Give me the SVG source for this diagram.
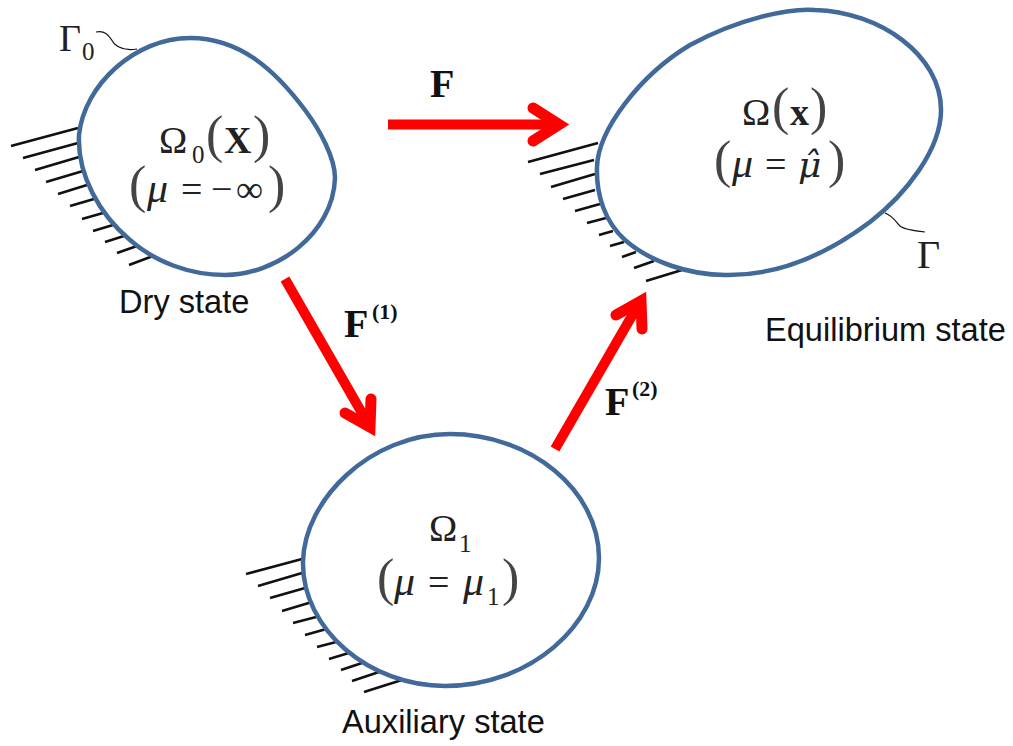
<svg xmlns="http://www.w3.org/2000/svg" width="1013" height="746" viewBox="0 0 1013 746">
<style>
.b{fill:#fff;stroke:#41699a;stroke-width:4.5}
.h{stroke:#111;stroke-width:2.6;fill:none}
.w{stroke:#111;stroke-width:1.2;fill:none}
.a{stroke:#f00;stroke-width:10;fill:none}
.ah{stroke:#f00;stroke-width:11;fill:none;stroke-linecap:round;stroke-linejoin:miter;stroke-miterlimit:6}
.l{font-family:"Liberation Sans",Arial,sans-serif;font-size:32.6px;fill:#111}
.m{font-family:"Liberation Serif","Times New Roman",serif;fill:#222}
.t{font-size:38px}
.u{font-size:42px;font-style:italic}
.s{font-size:25px}
.p{font-size:52px;fill:#444}
.g{font-size:38px}
.f{font-family:"Liberation Serif","Times New Roman",serif;font-weight:bold;fill:#111}
</style>
<rect width="1013" height="746" fill="#fff"/>
<g id="connectors">
<path class="a" d="M388 124.500H556"/><path class="ah" d="M533 108L559 124.500L533 141"/>
<path class="a" d="M285 279L366 420"/><path class="ah" d="M345 413L370 427L371 399"/>
<path class="a" d="M555 449L637 307"/><path class="ah" d="M616 315L641 301L642 329"/>
</g>
<g id="node-dry">
<path class="h" d="M78 128L11 146M78 143L23 158M79 157L35 170M83 171L46 182M87 185L58 194M94 199L70 206M103 213L82 219M113 225L93 231M124 236L105 242M137 246L117 253M153 256L129 265"/>
<path class="w" d="M96 32C104 30 108 34 111 39C115 47 124 51 137 49"/>
<path class="b" d="M79 135C84 85 135 38 190 38C240 38 275 70 305 110C320 130 335 158 335 178C333 235 275 275 225 275C190 275 155 262 130 240C100 215 77 175 79 135Z"/>
<text class="m g" x="59" y="51">Γ</text><text class="m s" x="82" y="60">0</text>
<text class="m t" x="159" y="153">Ω</text><text class="m s" x="192" y="163">0</text><text class="m p" x="206" y="152">(</text><text class="m t" x="224" y="153" font-weight="bold">X</text><text class="m p" x="253" y="152">)</text>
<text class="m p" x="129" y="202">(</text><text class="m u" x="147" y="202">μ</text><text class="m t" x="181" y="202">=</text><text class="m t" x="211" y="202">−</text><text class="m t" x="236" y="202">∞</text><text class="m p" x="268" y="202">)</text>
<text class="l" x="119" y="313">Dry state</text>
</g>
<g id="node-equilibrium">
<path class="h" d="M598 143L528 162M594 160L540 174M595 174L551 187M595 190L563 199M600 204L575 211M606 218L587 223M613 231L599 235M624 242L610 246M636 252L622 257M654 261L634 268M682 270L646 281"/>
<path class="w" d="M885 213C893 216 896 222 900 226C905 230 915 231 925 232"/>
<path class="b" d="M597 167C598 130 640 75 690 45C740 18 790 8 815 10C880 12 941 55 941 110C941 150 905 195 870 222C830 252 780 276 725 275C690 275 650 262 625 240C605 222 596 195 597 167Z"/>
<text class="m t" x="742" y="125">Ω</text><text class="m p" x="772" y="124">(</text><text class="m t" x="790" y="125" font-weight="bold">x</text><text class="m p" x="810" y="124">)</text>
<text class="m p" x="714" y="177">(</text><text class="m u" x="732" y="177">μ</text><text class="m t" x="765" y="177">=</text><text style="font-family:'DejaVu Serif',serif;font-size:36px;font-style:italic;fill:#222" x="798" y="177">μ̂</text><text class="m p" x="828" y="177">)</text>
<text class="m g" x="917" y="268" style="font-size:40px">Γ</text>
<text class="l" x="765" y="341">Equilibrium state</text>
</g>
<g id="node-auxiliary">
<path class="h" d="M302 559L246 574M302 573L258 586M305 588L270 598M312 602L282 611M320 616L293 623M330 628L305 635M340 641L317 647M352 652L329 659M365 662L341 670M382 671L352 681M405 679L364 692"/>
<path class="b" d="M303 562C304 500 370 434 450 434C530 434 599 490 599 558C599 625 530 686 445 686C370 686 302 630 303 562Z"/>
<text class="m t" x="429" y="541">Ω</text><text class="m s" x="459" y="552">1</text>
<text class="m p" x="377" y="595">(</text><text class="m u" x="394" y="595">μ</text><text class="m t" x="428" y="595">=</text><text class="m u" x="463" y="595">μ</text><text class="m s" x="487" y="605">1</text><text class="m p" x="502" y="595">)</text>
<text class="l" x="342" y="733">Auxiliary state</text>
</g>
<g id="labels">
<text class="f" x="430" y="97" font-size="40">F</text>
<text class="f" x="344" y="337" font-size="40">F</text><text class="f" x="372" y="319" font-size="22">(1)</text>
<text class="f" x="605" y="415" font-size="40">F</text><text class="f" x="632" y="396" font-size="22">(2)</text>
</g>
</svg>
